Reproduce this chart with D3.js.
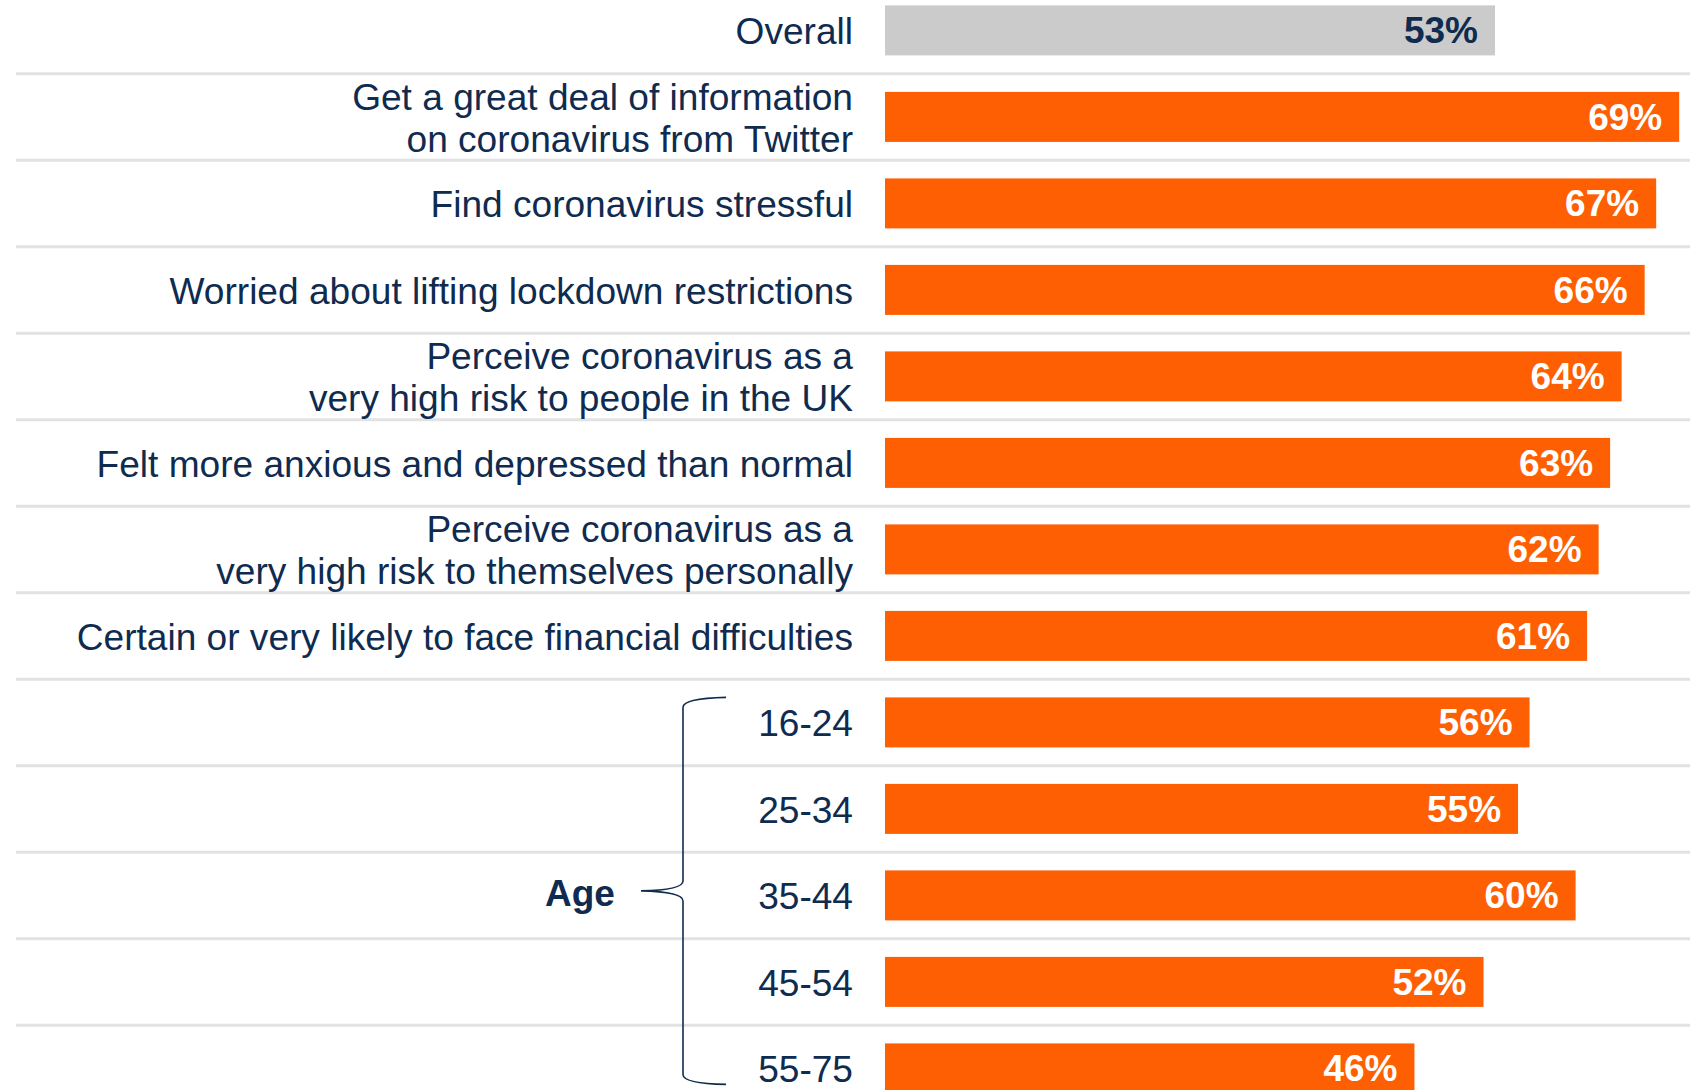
<!DOCTYPE html>
<html>
<head>
<meta charset="utf-8">
<script src="https://cdn.jsdelivr.net/npm/d3@7"></script>
<style>
  body { margin: 0; background: #fff; }
  svg text { font-family: "Liberation Sans", Arial, sans-serif; }
</style>
</head>
<body>
<div id="chart"></div>
<script>
// categories (lines split by "|") and their values in %
var categories = [
    "Overall",
    "Get a great deal of information|on coronavirus from Twitter",
    "Find coronavirus stressful",
    "Worried about lifting lockdown restrictions",
    "Perceive coronavirus as a|very high risk to people in the UK",
    "Felt more anxious and depressed than normal",
    "Perceive coronavirus as a|very high risk to themselves personally",
    "Certain or very likely to face financial difficulties",
    "16-24",
    "25-34",
    "35-44",
    "45-54",
    "55-75"
];
var values = [53, 69, 67, 66, 64, 63, 62, 61, 56, 55, 60, 52, 46];
var ageGroups = ["16-24", "25-34", "35-44", "45-54", "55-75"];
var groupLabel = "Age";

var width = 1701, height = 1090;
var navy = "#0f2b4f", orange = "#ff5f03", grey = "#cbcbcb";

var svg = d3.select("#chart")
    .append("svg")
        .attr("width", width)
        .attr("height", height);

var step = 86.5, pad = 0.422;
var y = d3.scaleBand()
    .domain(categories)
    .range([5.4, 5.4 + step * (categories.length - pad)])
    .paddingInner(pad)
    .paddingOuter(0);

var x = d3.scaleLinear()
    .domain([0, 100])
    .range([885, 885 + 1151]);

var data = categories.map(function(c, i){
    return { name: c, lines: c.split("|"), value: values[i], overall: i === 0 };
});

// separators between rows
var seps = data.slice(0, -1).map(function(d, i){
    return (y(d.name) + y.bandwidth() + y(data[i + 1].name)) / 2;
});
svg.append("g").selectAll("line")
    .data(seps)
    .enter().append("line")
        .attr("x1", 16)
        .attr("x2", 1690)
        .attr("y1", function(d){ return d; })
        .attr("y2", function(d){ return d; })
        .attr("stroke", "#e2e2e2")
        .attr("stroke-width", 3);

// bars
svg.append("g").selectAll("rect")
    .data(data)
    .enter().append("rect")
        .attr("x", x(0))
        .attr("y", function(d){ return y(d.name); })
        .attr("width", function(d){ return x(d.value) - x(0); })
        .attr("height", y.bandwidth())
        .attr("fill", function(d){ return d.overall ? grey : orange; });

// value labels
svg.append("g").selectAll("text")
    .data(data)
    .enter().append("text")
        .attr("x", function(d){ return x(d.value) - 17; })
        .attr("y", function(d){ return y(d.name) + y.bandwidth() / 2 + 13; })
        .attr("text-anchor", "end")
        .attr("font-size", "37px")
        .attr("font-weight", "bold")
        .attr("fill", function(d){ return d.overall ? navy : "#fff"; })
        .text(function(d){ return d.value + "%"; });

// category labels
var lineH = 42;
var labels = svg.append("g").selectAll("text")
    .data(data)
    .enter().append("text")
        .attr("text-anchor", "end")
        .attr("font-size", "37.1px")
        .attr("fill", navy)
        .attr("y", function(d){
            var c = y(d.name) + y.bandwidth() / 2 + 14;
            return c - (d.lines.length - 1) * lineH / 2;
        });

labels.selectAll("tspan")
    .data(function(d){ return d.lines; })
    .enter().append("tspan")
        .attr("x", 853)
        .attr("dy", function(d, i){ return i === 0 ? 0 : lineH; })
        .text(function(d){ return d; });

// age brace
var braceTop = y(ageGroups[0]),
    braceBot = y(ageGroups[ageGroups.length - 1]) + y.bandwidth() - 9,
    braceMid = y(ageGroups[2]) + y.bandwidth() / 2 - 4.5,
    bx = 683, tipX = 641, endX = 726;

var p = d3.path();
p.moveTo(endX, braceTop);
p.quadraticCurveTo(bx, braceTop + 1, bx, braceTop + 10);
p.lineTo(bx, braceMid - 10);
p.quadraticCurveTo(bx, braceMid - 1, tipX, braceMid);
p.quadraticCurveTo(bx, braceMid + 1, bx, braceMid + 10);
p.lineTo(bx, braceBot - 10);
p.quadraticCurveTo(bx, braceBot - 1, endX, braceBot);

svg.append("path")
    .attr("d", p.toString())
    .attr("fill", "none")
    .attr("stroke", navy)
    .attr("stroke-width", 1.6);

svg.append("text")
    .attr("x", 580)
    .attr("y", braceMid + 15)
    .attr("text-anchor", "middle")
    .attr("font-size", "37px")
    .attr("font-weight", "bold")
    .attr("fill", navy)
    .text(groupLabel);
</script>
</body>
</html>
